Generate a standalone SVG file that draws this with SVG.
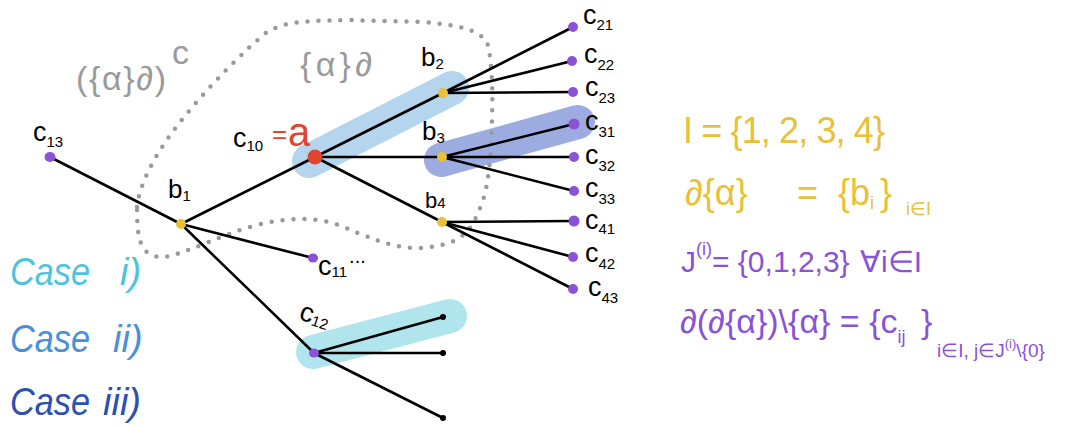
<svg xmlns="http://www.w3.org/2000/svg" width="1083" height="427" viewBox="0 0 1083 427">
<style>
.e{stroke:#000;stroke-width:2.6;fill:none;stroke-linecap:round}
.hl{fill:none;stroke-linecap:round;stroke-width:34}
.pu{fill:#8a52d6}
.ye{fill:#e8c03a}
.bk{fill:#000}
.lb{font-family:"Liberation Sans",sans-serif;fill:#000}
.c{font-size:27px}
.s{font-size:15px}
.gr{font-family:"Liberation Sans",sans-serif;fill:#9a9a9a;font-size:34px}
.case{font-family:"Liberation Sans",sans-serif;font-style:italic;font-size:38px}
.yf{font-family:"Liberation Sans",sans-serif;fill:#e8c03a}
.pf{font-family:"Liberation Sans",sans-serif;fill:#8a52d6}
</style>

<g id="highlights">
<line class="hl" x1="309" y1="161" x2="452" y2="88" stroke="#b5d4ee"/>
<line class="hl" x1="441" y1="160" x2="578" y2="122" stroke="#9dace0"/>
<line class="hl" x1="313" y1="352" x2="450" y2="316" stroke="#b0e5ee"/>
</g>

<g id="region">
<path d="M137,207 C140,180 160,145 190,110 C215,80 245,50 267,32 C285,22 300,21 347,20 L423,22 C460,25 478,30 487,42 C492,60 493,90 492,120 C491,160 488,195 478,212 C470,235 455,246 420,248 C390,249 365,235 333,223 C310,217 285,218 257,225 C220,235 190,252 165,257 C140,258 137,240 137,207 Z" fill="none" stroke="#9a9a9a" stroke-width="4.5" stroke-linecap="round" stroke-dasharray="0 11"/>
</g>

<g id="connectors">
<line class="e" x1="50" y1="157" x2="181" y2="224"/>
<line class="e" x1="181" y1="224" x2="315" y2="157"/>
<line class="e" x1="181" y1="224" x2="313" y2="258"/>
<line class="e" x1="181" y1="224" x2="314" y2="353"/>
<line class="e" x1="315" y1="157" x2="443" y2="93"/>
<line class="e" x1="315" y1="157" x2="442" y2="157"/>
<line class="e" x1="315" y1="157" x2="442" y2="222"/>
<line class="e" x1="443" y1="93" x2="573" y2="27"/>
<line class="e" x1="443" y1="93" x2="572" y2="61"/>
<line class="e" x1="443" y1="93" x2="573" y2="92"/>
<line class="e" x1="442" y1="157" x2="574" y2="124"/>
<line class="e" x1="442" y1="157" x2="574" y2="157"/>
<line class="e" x1="442" y1="157" x2="574" y2="191"/>
<line class="e" x1="442" y1="222" x2="574" y2="221"/>
<line class="e" x1="442" y1="222" x2="573" y2="257"/>
<line class="e" x1="442" y1="222" x2="573" y2="289"/>
<line class="e" x1="314" y1="353" x2="443" y2="317"/>
<line class="e" x1="314" y1="353" x2="443" y2="353"/>
<line class="e" x1="314" y1="353" x2="443" y2="418"/>
</g>

<g id="c13"><ellipse class="pu" cx="50" cy="157" rx="5.5" ry="5"/><text class="lb" x="33" y="141"><tspan class="c">c</tspan><tspan class="s" dy="6">13</tspan></text></g>
<g id="b1"><circle class="ye" cx="181" cy="224" r="5"/><text class="lb" x="168" y="198" font-size="26">b<tspan class="s" dy="3">1</tspan></text></g>
<g id="c10"><circle cx="315" cy="157" r="7.5" fill="#e0452f"/><text class="lb" x="233" y="147"><tspan class="c">c</tspan><tspan class="s" dy="4">10</tspan></text><text x="272" y="143" font-family="Liberation Sans,sans-serif" fill="#e0452f" font-size="26">=</text><text x="288" y="146" font-family="Liberation Sans,sans-serif" fill="#e0452f" font-size="40">a</text></g>
<g id="b2"><circle class="ye" cx="443" cy="93" r="5"/><text class="lb" x="421" y="66" font-size="26">b<tspan class="s" dy="3">2</tspan></text></g>
<g id="b3"><circle class="ye" cx="442" cy="157" r="5"/><text class="lb" x="422" y="140" font-size="26">b<tspan class="s" dy="3">3</tspan></text></g>
<g id="b4"><circle class="ye" cx="442" cy="222" r="5"/><text class="lb" x="425" y="208" font-size="22">b<tspan class="s">4</tspan></text></g>
<g id="c11"><ellipse class="pu" cx="313" cy="258" rx="5" ry="4.5"/><text class="lb" x="318" y="275"><tspan class="c">c</tspan><tspan class="s" dy="2">11</tspan><tspan font-size="20" dy="-14" dx="2">...</tspan></text></g>
<g id="c12"><ellipse class="pu" cx="314" cy="353" rx="5" ry="4.5"/><text class="lb" transform="translate(298 319) rotate(18)"><tspan class="c">c</tspan><tspan class="s" dy="2">12</tspan></text></g>
<g id="c12ends"><circle class="bk" cx="443" cy="317" r="3"/><circle class="bk" cx="443" cy="353" r="3"/><circle class="bk" cx="443" cy="418" r="3"/></g>
<g id="c21"><ellipse class="pu" cx="573" cy="27" rx="5" ry="5"/><text class="lb" x="583" y="24"><tspan class="c">c</tspan><tspan class="s" dy="6">21</tspan></text></g>
<g id="c22"><ellipse class="pu" cx="572" cy="61" rx="5" ry="5"/><text class="lb" x="584" y="63"><tspan class="c">c</tspan><tspan class="s" dy="7">22</tspan></text></g>
<g id="c23"><ellipse class="pu" cx="573" cy="92" rx="5" ry="5"/><text class="lb" x="585" y="96"><tspan class="c">c</tspan><tspan class="s" dy="7">23</tspan></text></g>
<g id="c31"><ellipse class="pu" cx="574" cy="124" rx="5.5" ry="5.5"/><text class="lb" x="585" y="130"><tspan class="c">c</tspan><tspan class="s" dy="7">31</tspan></text></g>
<g id="c32"><ellipse class="pu" cx="574" cy="157" rx="5" ry="5"/><text class="lb" x="585" y="164"><tspan class="c">c</tspan><tspan class="s" dy="7">32</tspan></text></g>
<g id="c33"><ellipse class="pu" cx="574" cy="191" rx="5" ry="5"/><text class="lb" x="585" y="197"><tspan class="c">c</tspan><tspan class="s" dy="7">33</tspan></text></g>
<g id="c41"><ellipse class="pu" cx="574" cy="221" rx="5.5" ry="5.5"/><text class="lb" x="585" y="229"><tspan class="c">c</tspan><tspan class="s" dy="5">41</tspan></text></g>
<g id="c42"><ellipse class="pu" cx="573" cy="257" rx="5" ry="5"/><text class="lb" x="585" y="262"><tspan class="c">c</tspan><tspan class="s" dy="7">42</tspan></text></g>
<g id="c43"><ellipse class="pu" cx="573" cy="289" rx="5" ry="5"/><text class="lb" x="588" y="296"><tspan class="c">c</tspan><tspan class="s" dy="7">43</tspan></text></g>

<g id="labels-gray">
<text class="gr" x="76" y="90" textLength="90" lengthAdjust="spacing">({α}∂)</text>
<text class="gr" x="172" y="64" font-size="22">c</text>
<text class="gr" x="300" y="76" textLength="72" lengthAdjust="spacing">{α}∂</text>
</g>

<g id="cases">
<text class="case" x="10" y="285" fill="#4ec3dc"><tspan textLength="80" lengthAdjust="spacingAndGlyphs">Case</tspan><tspan x="120">i)</tspan></text>
<text class="case" x="10" y="352" fill="#4a90d9"><tspan textLength="80" lengthAdjust="spacingAndGlyphs">Case</tspan><tspan x="113">ii)</tspan></text>
<text class="case" x="10" y="415" fill="#2c4fb0"><tspan textLength="80" lengthAdjust="spacingAndGlyphs">Case</tspan><tspan x="103">iii)</tspan></text>
</g>

<g id="formulas-yellow">
<text class="yf" x="683" y="143" font-size="36" textLength="202" lengthAdjust="spacing">I = {1, 2, 3, 4}</text>
<text class="yf" x="685" y="205" font-size="36">∂{α}<tspan x="797">=</tspan><tspan x="838">{b</tspan><tspan font-size="18" dy="4">i</tspan><tspan dy="-4" x="880">}</tspan><tspan font-size="18" dy="10" x="906">i∈I</tspan></text>
</g>

<g id="formulas-purple">
<text class="pf" x="681" y="272" font-size="30">J<tspan font-size="18" dy="-17">(i)</tspan><tspan dy="17">= {0,1,2,3}</tspan><tspan x="860">∀i∈I</tspan></text>
<text class="pf" x="680" y="333" font-size="34">∂(∂{α})\{α} = {c<tspan font-size="18" dy="10">ij</tspan><tspan dy="-10" x="921">}</tspan><tspan font-size="19" dy="24" x="937">i∈I, j∈J</tspan><tspan font-size="13" dy="-9">(i)</tspan><tspan font-size="19" dy="9">\{0}</tspan></text>
</g>
</svg>
